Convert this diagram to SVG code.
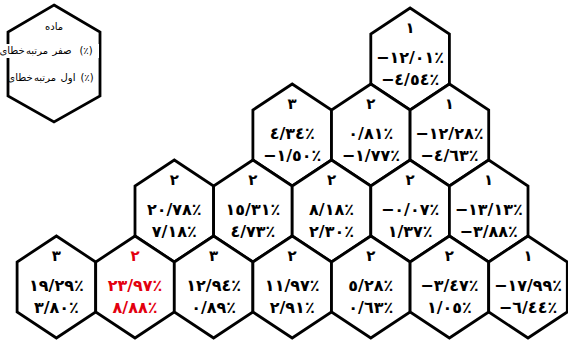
<svg xmlns="http://www.w3.org/2000/svg" width="568" height="341" viewBox="0 0 568 341">
<style>
.hex{fill:#fff;stroke:#000;stroke-width:2.8;stroke-linejoin:miter}
.t{font-family:"DejaVu Sans",sans-serif;font-weight:bold;text-anchor:middle;fill:#000;direction:ltr}
.n{font-size:15px}
.v{font-size:16px}
.red{fill:#e3000f}
.lg{font-family:"DejaVu Sans",sans-serif;font-size:10px;text-anchor:middle;fill:#000}
</style>
<defs>
<polygon id="h" class="hex" points="0,-51 39.3,-25 39.3,25 0,51 -39.3,25 -39.3,-25"/>
</defs>
<g id="connectors"></g>
<g id="legend">
<polygon class="hex" points="54,5 100,32 100,96 54,122 8,96 8,32"/>
<rect x="1" y="44" width="98" height="14" fill="#fff"/>
<text class="lg" x="54" y="30">ماده</text>
<text class="lg" x="12" y="54">خطای</text>
<text class="lg" x="37" y="54">مرتبه</text>
<text class="lg" x="62" y="54">صفر</text>
<text class="lg" x="86" y="54">(٪)</text>
<text class="lg" x="20" y="81">خطای</text>
<text class="lg" x="45" y="81">مرتبه</text>
<text class="lg" x="68" y="81">اول</text>
<text class="lg" x="87" y="81">(٪)</text>
</g>
<g id="r4c1" transform="translate(410.1,59)"><use href="#h"/><text class="t n" y="-26">١</text><text class="t v" y="4">−١٢/٠١٪</text><text class="t v" y="26">−٤/٥٤٪</text></g>
<g id="r3c1" transform="translate(292.2,135)"><use href="#h"/><text class="t n" y="-26">٣</text><text class="t v" y="4">٤/٣٤٪</text><text class="t v" y="26">−١/٥٠٪</text></g>
<g id="r3c2" transform="translate(370.8,135)"><use href="#h"/><text class="t n" y="-26">٢</text><text class="t v" y="4">٠/٨١٪</text><text class="t v" y="26">−١/٧٧٪</text></g>
<g id="r3c3" transform="translate(449.4,135)"><use href="#h"/><text class="t n" y="-26">١</text><text class="t v" y="4">−١٢/٢٨٪</text><text class="t v" y="26">−٤/٦٣٪</text></g>
<g id="r2c1" transform="translate(174.3,211)"><use href="#h"/><text class="t n" y="-26">٢</text><text class="t v" y="4">٢٠/٧٨٪</text><text class="t v" y="26">٧/١٨٪</text></g>
<g id="r2c2" transform="translate(252.9,211)"><use href="#h"/><text class="t n" y="-26">٢</text><text class="t v" y="4">١٥/٣١٪</text><text class="t v" y="26">٤/٧٣٪</text></g>
<g id="r2c3" transform="translate(331.5,211)"><use href="#h"/><text class="t n" y="-26">٢</text><text class="t v" y="4">٨/١٨٪</text><text class="t v" y="26">٢/٣٠٪</text></g>
<g id="r2c4" transform="translate(410.1,211)"><use href="#h"/><text class="t n" y="-26">٢</text><text class="t v" y="4">−٠/٠٧٪</text><text class="t v" y="26">١/٣٧٪</text></g>
<g id="r2c5" transform="translate(488.7,211)"><use href="#h"/><text class="t n" y="-26">١</text><text class="t v" y="4">−١٣/١٣٪</text><text class="t v" y="26">−٣/٨٨٪</text></g>
<g id="r1c1" transform="translate(56.4,287)"><use href="#h"/><text class="t n" y="-26">٣</text><text class="t v" y="4">١٩/٢٩٪</text><text class="t v" y="26">٣/٨٠٪</text></g>
<g id="r1c2" transform="translate(135,287)"><use href="#h"/><text class="t n red" y="-26">٢</text><text class="t v red" y="4">٢٣/٩٧٪</text><text class="t v red" y="26">٨/٨٨٪</text></g>
<g id="r1c3" transform="translate(213.6,287)"><use href="#h"/><text class="t n" y="-26">٣</text><text class="t v" y="4">١٢/٩٤٪</text><text class="t v" y="26">٠/٨٩٪</text></g>
<g id="r1c4" transform="translate(292.2,287)"><use href="#h"/><text class="t n" y="-26">٢</text><text class="t v" y="4">١١/٩٧٪</text><text class="t v" y="26">٢/٩١٪</text></g>
<g id="r1c5" transform="translate(370.8,287)"><use href="#h"/><text class="t n" y="-26">٢</text><text class="t v" y="4">٥/٢٨٪</text><text class="t v" y="26">٠/٦٣٪</text></g>
<g id="r1c6" transform="translate(449.4,287)"><use href="#h"/><text class="t n" y="-26">٢</text><text class="t v" y="4">−٣/٤٧٪</text><text class="t v" y="26">١/٠٥٪</text></g>
<g id="r1c7" transform="translate(528,287)"><use href="#h"/><text class="t n" y="-26">١</text><text class="t v" y="4">−١٧/٩٩٪</text><text class="t v" y="26">−٦/٤٤٪</text></g>
</svg>
